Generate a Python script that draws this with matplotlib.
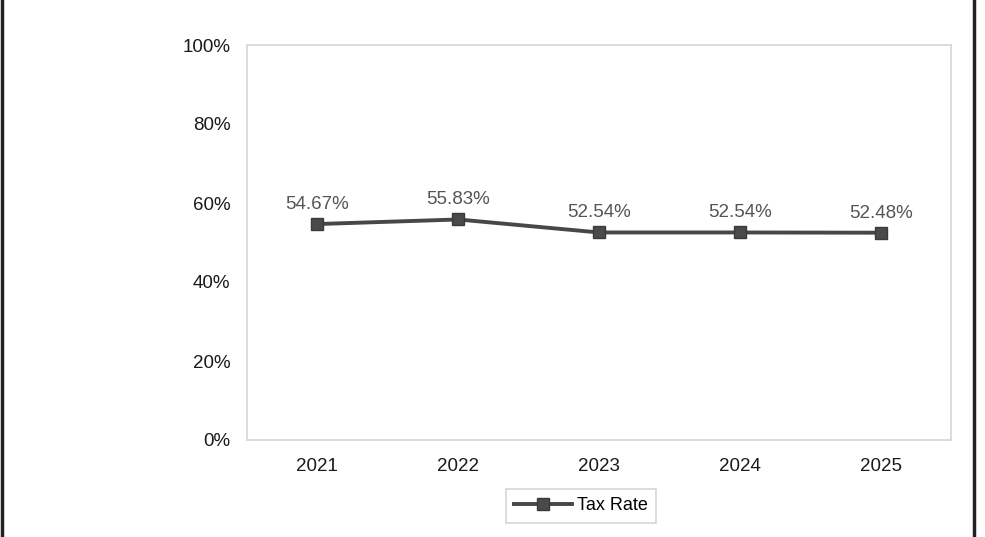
import matplotlib
matplotlib.use("Agg")
import matplotlib.pyplot as plt
from matplotlib.lines import Line2D
from matplotlib.ticker import FuncFormatter

years = ["2021", "2022", "2023", "2024", "2025"]
tax_rate = [54.67, 55.83, 52.54, 52.54, 52.48]
labels = ["54.67%", "55.83%", "52.54%", "52.54%", "52.48%"]
yticks = [0, 20, 40, 60, 80, 100]

W, H = 985, 537
fig = plt.figure(figsize=(W / 100, H / 100), dpi=100)
fig.patch.set_facecolor("white")
plt.rcParams['font.family'] = ['Liberation Sans', 'DejaVu Sans']

left, right, top, bottom = 247, 951, 45, 440
ax = fig.add_axes([left / W, 1 - bottom / H, (right - left) / W, (bottom - top) / H])

x = list(range(len(years)))
line, = ax.plot(x, tax_rate, color="#474747", lw=2.8, marker="s", markersize=9,
                markerfacecolor="#4a4a4a", markeredgecolor="#3a3a3a", label="Tax Rate")
for xi, v, lab in zip(x, tax_rate, labels):
    ax.annotate(lab, (xi, v), xytext=(0, 8), textcoords="offset points",
                ha="center", va="bottom", fontsize=13.5, color="#555555")

ax.set_xlim(-0.5, len(years) - 0.5)
ax.set_ylim(0, 100)
ax.set_yticks(yticks)
ax.yaxis.set_major_formatter(FuncFormatter(lambda v, p: f"{int(v)}%"))
ax.set_xticks(x)
ax.set_xticklabels(years)
ax.tick_params(axis="both", length=0, labelsize=13.5, colors="#1a1a1a")
ax.tick_params(axis="y", pad=12)
ax.tick_params(axis="x", pad=13)
for s in ax.spines.values():
    s.set_color("#d6d6d6")
    s.set_linewidth(1.2)

leg = fig.legend(handles=[line], loc="center", bbox_to_anchor=(581 / W, 1 - 506 / H),
                 frameon=True, fontsize=13, handlelength=3.2, handletextpad=0.3,
                 borderpad=0.45, fancybox=False, edgecolor="#cccccc")
leg.get_frame().set_linewidth(1.2)

# outer border lines
fig.add_artist(Line2D([1.5 / W, 1.5 / W], [0, 1], color="#222222", lw=2.5, transform=fig.transFigure))
fig.add_artist(Line2D([974 / W, 974 / W], [0, 1], color="#222222", lw=2.5, transform=fig.transFigure))

fig.savefig("out.png", dpi=100, facecolor="white")
